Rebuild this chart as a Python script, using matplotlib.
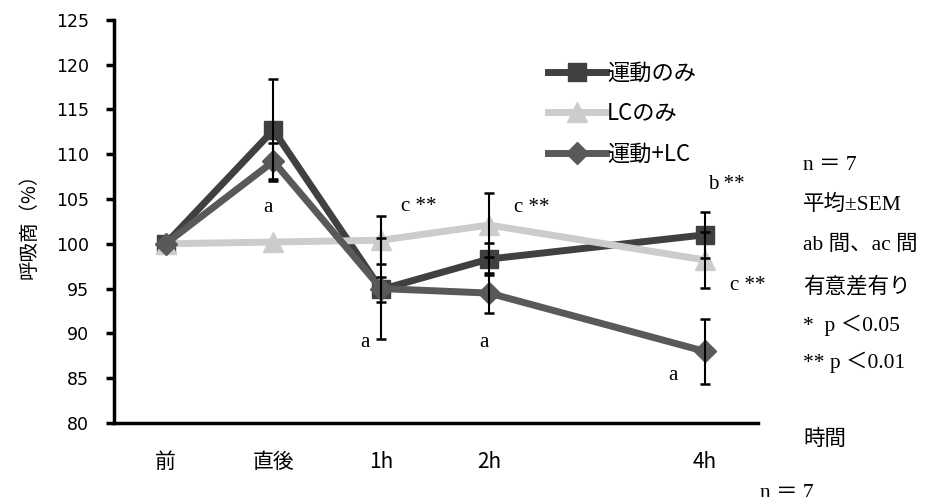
import matplotlib.pyplot as plt

plt.rcParams['font.family'] = ['DejaVu Sans', 'Noto Sans CJK JP']
SERIF = ['Liberation Serif', 'Noto Sans CJK JP']
GOTHIC = ['Noto Sans CJK JP', 'DejaVu Sans']

# 測定時点 (4h は 2h から 2 区間あける)
labels = ['前', '直後', '1h', '2h', '4h']
xpos = [0, 1, 2, 3, 5]

undou = [100, 112.7, 94.9, 98.3, 101.0]
undou_sem = [0, 5.7, 1.4, 1.8, 2.6]
lc = [100, 100.2, 100.4, 102.1, 98.2]
lc_sem = [0, 0, 2.7, 3.6, 3.1]
undou_lc = [100, 109.2, 95.0, 94.5, 88.0]
undou_lc_sem = [0, 2.0, 5.6, 2.2, 3.6]

series = [
    ('運動のみ', undou, undou_sem, '#404040', 's', 13.5),
    ('LCのみ', lc, lc_sem, '#cccccc', '^', 15),
    ('運動+LC', undou_lc, undou_lc_sem, '#595959', 'D', 11),
]

fig = plt.figure(figsize=(9.26, 4.97), dpi=100)
ax = fig.add_axes([0.123, 0.149, 0.696, 0.811])

for name, vals, sem, col, mk, ms in series:
    ax.plot(xpos, vals, color=col, lw=5, marker=mk, ms=ms, mec=col,
            mfc=col, label=name, zorder=3)
    ex = [x for x, s in zip(xpos, sem) if s > 0]
    ey = [v for v, s in zip(vals, sem) if s > 0]
    es = [s for s in sem if s > 0]
    ax.errorbar(ex, ey, yerr=es, fmt='none', ecolor='black', elinewidth=1.5,
                capsize=3.5, capthick=1.8, zorder=4)

# 有意差の記号
marks = [
    (0.95, 104.0, 'a', 'center'),
    (2.18, 104.2, 'c **', 'left'),
    (3.23, 104.1, 'c **', 'left'),
    (5.03, 106.6, 'b **', 'left'),
    (5.24, 95.4, 'c **', 'left'),
    (1.85, 89.0, 'a', 'center'),
    (2.95, 89.0, 'a', 'center'),
    (4.71, 85.3, 'a', 'center'),
]
for x, y, s, ha in marks:
    ax.text(x, y, s, ha=ha, va='center', fontsize=15, family=SERIF)

ax.set_xlim(-0.48, 5.5)
ax.set_ylim(80, 125)
ax.set_yticks(range(80, 126, 5))
ax.set_xticks(xpos)
ax.set_xticklabels(labels, family=GOTHIC, fontsize=15)
ax.tick_params(axis='x', length=0, pad=20)
ax.tick_params(axis='y', direction='out', length=6, width=2.5, pad=12, labelsize=12.5)
for side in ['top', 'right']:
    ax.spines[side].set_visible(False)
for side in ['left', 'bottom']:
    ax.spines[side].set_linewidth(2.5)
ax.set_ylabel('呼吸商（%）', fontsize=14, labelpad=12, family=GOTHIC)

ax.legend(loc='upper left', bbox_to_anchor=(0.66, 0.918), frameon=False,
          prop={'family': GOTHIC, 'size': 16}, handlelength=2.6,
          handletextpad=0.05, labelspacing=0.78, borderaxespad=0)

notes = [
    (803, 165, 'n ＝ 7'),
    (803, 205, '平均±SEM'),
    (803, 245, 'ab 間、ac 間'),
    (803, 287, '有意差有り'),
    (803, 325, '*  p ＜0.05'),
    (803, 362, '** p ＜0.01'),
    (803, 440, '時間'),
    (760, 493, 'n ＝ 7'),
]
for px, py, s in notes:
    fig.text(px / 926, 1 - py / 497, s, ha='left', va='center',
             fontsize=15.5, family=SERIF)

fig.savefig('out.png', dpi=100)
